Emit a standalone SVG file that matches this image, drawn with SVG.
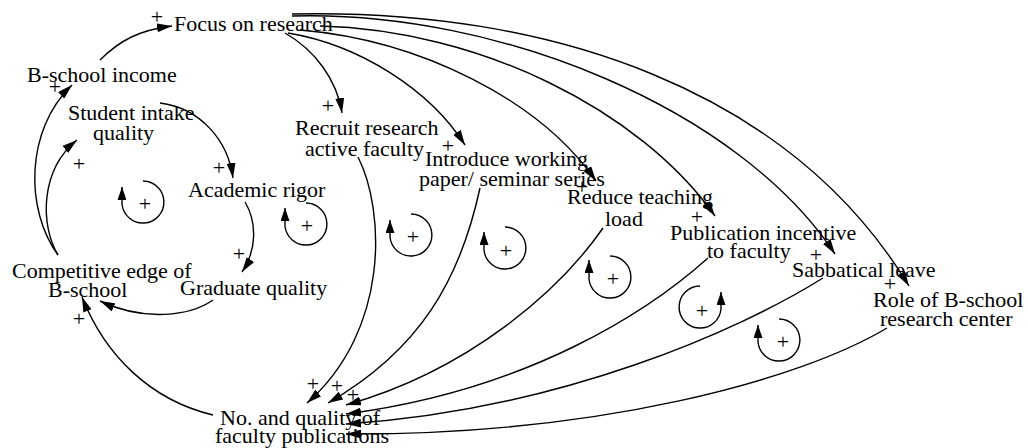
<svg xmlns="http://www.w3.org/2000/svg" width="1028" height="448" viewBox="0 0 1028 448">
  <style>
    .lbl { font-family: "Liberation Serif", "Times New Roman", serif; font-size: 22px; fill: #000; }
    .pol { font-family: "Liberation Serif", "Times New Roman", serif; font-size: 22px; fill: #000; text-anchor: middle; }
    .link { fill: none; stroke: #000; stroke-width: 1.4; marker-end: url(#ah); }
    .loop { fill: none; stroke: #000; stroke-width: 1.4; marker-end: url(#lh); }
  </style>
  <defs>
    <marker id="ah" markerWidth="15" markerHeight="9" refX="15" refY="4.5" orient="auto" markerUnits="userSpaceOnUse">
      <path d="M0,0 L15,4.5 L0,9 z" fill="#000"/>
    </marker>
    <marker id="lh" markerWidth="13" markerHeight="9" refX="13" refY="4.5" orient="auto" markerUnits="userSpaceOnUse">
      <path d="M0,0 L13,4.5 L0,9 z" fill="#000"/>
    </marker>
  </defs>
  <rect width="1028" height="448" fill="#fff"/>

  <!-- causal links -->
  <g id="connectors">
    <path class="link" d="M100,60 C120,40 140,30 172,26"/>
    <path class="link" d="M58,255 C25,210 25,130 72,85"/>
    <path class="link" d="M58,255 C40,225 40,170 77,140"/>
    <path class="link" d="M160,103 C200,108 228,140 233,178"/>
    <path class="link" d="M245,202 C257,222 257,250 242,272"/>
    <path class="link" d="M213,300 C190,316 145,322 100,301"/>
    <path class="link" d="M213,415 C150,400 105,355 82,297"/>
    <!-- out of Focus on research -->
    <path class="link" d="M285,33 C315,50 337,80 342,113"/>
    <path class="link" d="M288,33 C360,45 430,90 465,145"/>
    <path class="link" d="M300,30 C420,40 540,100 596,181"/>
    <path class="link" d="M320,26 C480,30 640,110 715,216"/>
    <path class="link" d="M292,16 C500,10 740,110 835,254"/>
    <path class="link" d="M292,14 C550,8 790,90 909,286"/>
    <!-- into No. and quality of faculty publications -->
    <path class="link" d="M358,157 C385,210 390,330 307,403"/>
    <path class="link" d="M480,188 C460,280 420,350 328,403"/>
    <path class="link" d="M603,228 C560,290 470,370 346,405"/>
    <path class="link" d="M708,258 C650,310 530,390 346,414"/>
    <path class="link" d="M823,278 C740,330 560,410 346,424"/>
    <path class="link" d="M887,328 C800,380 600,435 346,434"/>
    <!-- link polarities -->
    <text class="pol" x="157" y="23.5">+</text>
    <text class="pol" x="55" y="93.5">+</text>
    <text class="pol" x="79" y="170.5">+</text>
    <text class="pol" x="219" y="174.5">+</text>
    <text class="pol" x="239" y="260.5">+</text>
    <text class="pol" x="79" y="325.5">+</text>
    <text class="pol" x="328" y="112.5">+</text>
    <text class="pol" x="448" y="152.5">+</text>
    <text class="pol" x="582" y="193.5">+</text>
    <text class="pol" x="697" y="223.5">+</text>
    <text class="pol" x="816" y="261.5">+</text>
    <text class="pol" x="890" y="290.5">+</text>
    <text class="pol" x="313" y="390.5">+</text>
    <text class="pol" x="337" y="392.5">+</text>
    <text class="pol" x="353" y="401.5">+</text>
  </g>

  <!-- reinforcing loop markers -->
  <g id="loops">
    <path class="loop" d="M143,181 A21,21 0 1 1 122,204 L122,187"/>
    <text class="pol" x="145" y="211">+</text>
    <path class="loop" d="M306,203 A21,21 0 1 1 285,226 L285,208"/>
    <text class="pol" x="307" y="233">+</text>
    <path class="loop" d="M411,214 A21,21 0 1 1 390,237 L390,220"/>
    <text class="pol" x="413" y="244">+</text>
    <path class="loop" d="M505,227 A21,21 0 1 1 484,250 L484,232"/>
    <text class="pol" x="506" y="258">+</text>
    <path class="loop" d="M610,256 A21,21 0 1 1 589,279 L589,260"/>
    <text class="pol" x="613" y="286">+</text>
    <path class="loop" d="M700,286 A21,21 0 1 0 721,309 L721,292"/>
    <text class="pol" x="702" y="318">+</text>
    <path class="loop" d="M779,319 A21,21 0 1 1 758,342 L758,325"/>
    <text class="pol" x="783" y="349">+</text>
  </g>

  <!-- variables -->
  <g id="focus-on-research"><text class="lbl" x="174" y="31">Focus on research</text></g>
  <g id="b-school-income"><text class="lbl" x="27" y="82">B-school income</text></g>
  <g id="student-intake-quality">
    <text class="lbl" x="68" y="120">Student intake</text>
    <text class="lbl" x="93" y="140">quality</text>
  </g>
  <g id="academic-rigor"><text class="lbl" x="188" y="197">Academic rigor</text></g>
  <g id="graduate-quality"><text class="lbl" x="180" y="295">Graduate quality</text></g>
  <g id="competitive-edge">
    <text class="lbl" x="12" y="278">Competitive edge of</text>
    <text class="lbl" x="48" y="297">B-school</text>
  </g>
  <g id="faculty-publications">
    <text class="lbl" x="220" y="425">No. and quality of</text>
    <text class="lbl" x="215" y="443">faculty publications</text>
  </g>
  <g id="recruit-faculty">
    <text class="lbl" x="295" y="135">Recruit research</text>
    <text class="lbl" x="305" y="156">active faculty</text>
  </g>
  <g id="working-paper-series">
    <text class="lbl" x="425" y="166">Introduce working</text>
    <text class="lbl" x="419" y="186">paper/ seminar series</text>
  </g>
  <g id="reduce-teaching-load">
    <text class="lbl" x="567" y="204">Reduce teaching</text>
    <text class="lbl" x="605" y="226">load</text>
  </g>
  <g id="publication-incentive">
    <text class="lbl" x="670" y="240">Publication incentive</text>
    <text class="lbl" x="707" y="258">to faculty</text>
  </g>
  <g id="sabbatical-leave"><text class="lbl" x="792" y="277">Sabbatical leave</text></g>
  <g id="research-center">
    <text class="lbl" x="873" y="307">Role of B-school</text>
    <text class="lbl" x="880" y="326">research center</text>
  </g>
</svg>
